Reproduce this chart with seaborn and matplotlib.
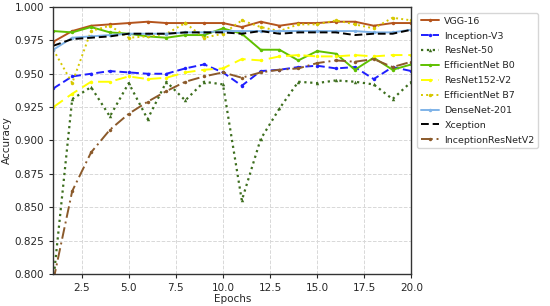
import numpy as np
import pandas as pd
import matplotlib
matplotlib.use("Agg")
import matplotlib.pyplot as plt
import seaborn as sns

epochs = list(range(1, 21))

vgg16 = [0.974, 0.982, 0.986, 0.987, 0.988, 0.989, 0.988, 0.988, 0.988, 0.988,
         0.985, 0.989, 0.986, 0.988, 0.988, 0.989, 0.989, 0.986, 0.988, 0.988]
inception_v3 = [0.939, 0.948, 0.950, 0.952, 0.951, 0.950, 0.950, 0.954, 0.957, 0.951,
                0.941, 0.952, 0.953, 0.955, 0.956, 0.954, 0.955, 0.946, 0.955, 0.952]
resnet50 = [0.795, 0.931, 0.940, 0.918, 0.943, 0.916, 0.944, 0.930, 0.944, 0.942,
            0.855, 0.901, 0.924, 0.944, 0.943, 0.945, 0.944, 0.942, 0.931, 0.944]
effnet_b0 = [0.982, 0.981, 0.985, 0.981, 0.980, 0.978, 0.977, 0.979, 0.979, 0.984,
             0.980, 0.968, 0.968, 0.960, 0.967, 0.965, 0.953, 0.962, 0.953, 0.957]
resnet152_v2 = [0.925, 0.935, 0.944, 0.944, 0.948, 0.946, 0.947, 0.951, 0.953, 0.954,
                0.961, 0.960, 0.963, 0.964, 0.963, 0.963, 0.964, 0.963, 0.964, 0.964]
effnet_b7 = [0.968, 0.943, 0.982, 0.986, 0.977, 0.978, 0.980, 0.988, 0.977, 0.980,
             0.990, 0.985, 0.982, 0.987, 0.987, 0.990, 0.987, 0.984, 0.992, 0.990]
densenet201 = [0.968, 0.977, 0.978, 0.979, 0.980, 0.980, 0.980, 0.981, 0.981, 0.982,
               0.982, 0.982, 0.982, 0.982, 0.982, 0.982, 0.982, 0.981, 0.981, 0.983]
xception = [0.971, 0.976, 0.977, 0.978, 0.980, 0.980, 0.980, 0.981, 0.981, 0.981,
            0.980, 0.982, 0.980, 0.981, 0.981, 0.981, 0.979, 0.980, 0.980, 0.983]
inc_resnet_v2 = [0.795, 0.862, 0.891, 0.908, 0.920, 0.929, 0.937, 0.944, 0.948, 0.951,
                 0.947, 0.951, 0.953, 0.954, 0.958, 0.960, 0.959, 0.961, 0.955, 0.959]

models = ["VGG-16", "Inception-V3", "ResNet-50", "EfficientNet B0", "ResNet152-V2",
          "EfficientNet B7", "DenseNet-201", "Xception", "InceptionResNetV2"]
series = [vgg16, inception_v3, resnet50, effnet_b0, resnet152_v2,
          effnet_b7, densenet201, xception, inc_resnet_v2]

styles = {
    "VGG-16": dict(color="#b4541c", ls="-", marker="o", lw=1.4),
    "Inception-V3": dict(color="#1f1fff", ls=(0, (4, 2)), marker="o", lw=1.4),
    "ResNet-50": dict(color="#3d6e1e", ls=":", marker="^", lw=1.6),
    "EfficientNet B0": dict(color="#5fc000", ls="-", marker="o", lw=1.4),
    "ResNet152-V2": dict(color="#ffff00", ls=(0, (6, 3)), marker="o", lw=1.4),
    "EfficientNet B7": dict(color="#d6c800", ls=":", marker="o", lw=1.4),
    "DenseNet-201": dict(color="#7fb3e8", ls="-", marker="o", lw=1.4),
    "Xception": dict(color="black", ls=(0, (4, 2)), marker=None, lw=1.4),
    "InceptionResNetV2": dict(color="#8b5a2b", ls=(0, (6, 2, 1, 2)), marker="o", lw=1.4),
}

sns.set_style("ticks")
plt.rcParams["font.family"] = ["DejaVu Sans"]

fig = plt.figure(figsize=(5.5, 3.06), dpi=100)
ax = fig.add_axes([0.097, 0.105, 0.651, 0.872])

for name, vals in zip(models, series):
    df = pd.DataFrame({"Epochs": epochs, "Accuracy": vals})
    st = styles[name]
    sns.lineplot(data=df, x="Epochs", y="Accuracy", ax=ax, color=st["color"],
                 linestyle=st["ls"], linewidth=st["lw"], marker=st["marker"],
                 markersize=2.5, markeredgewidth=0, label=name)

ax.set_xlim(1, 20)
ax.set_ylim(0.8, 1.0)
ax.set_xticks([2.5, 5.0, 7.5, 10.0, 12.5, 15.0, 17.5, 20.0])
ax.set_yticks(np.arange(0.8, 1.0001, 0.025))
ax.yaxis.set_major_formatter(matplotlib.ticker.FormatStrFormatter("%.3f"))
ax.xaxis.set_major_formatter(matplotlib.ticker.FormatStrFormatter("%.1f"))
ax.tick_params(labelsize=7.5, length=3, width=0.8)
ax.set_xlabel("Epochs", fontsize=7.5, labelpad=1)
ax.set_ylabel("Accuracy", fontsize=7.5, labelpad=2)
ax.grid(True, linestyle="--", color="#d8d8d8", linewidth=0.7)
for sp in ax.spines.values():
    sp.set_color("#333333")
    sp.set_linewidth(1.0)

ax.legend(loc="upper left", bbox_to_anchor=(1.01, 0.985), fontsize=6.8,
          frameon=True, handlelength=1.9, handletextpad=0.6, borderaxespad=0.2,
          labelspacing=0.62, borderpad=0.4)

fig.savefig("out.png", dpi=100)
